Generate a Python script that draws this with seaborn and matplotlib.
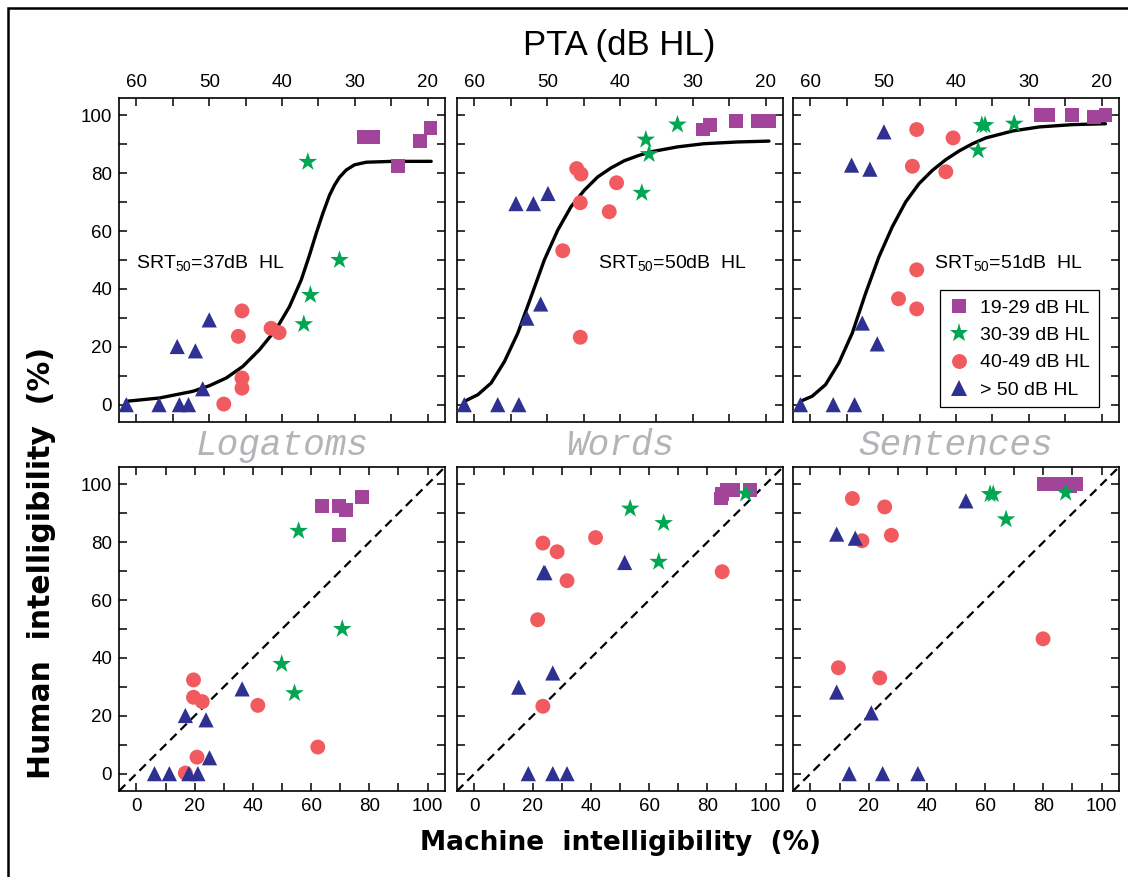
import matplotlib
matplotlib.use("Agg")
import matplotlib.pyplot as plt
from matplotlib.lines import Line2D
from matplotlib.patches import Rectangle
import numpy as np
import pandas as pd
import seaborn as sns

# hearing-loss groups (legend order)
G1, G2, G3, G4 = "19-29 dB HL", "30-39 dB HL", "40-49 dB HL", "> 50 dB HL"
GROUPS = [G1, G2, G3, G4]
POINT_GROUP = [G1] * 5 + [G2] * 4 + [G3] * 7 + [G4] * 8

TESTS = ["Logatoms", "Words", "Sentences"]
SRT50 = [37, 50, 51]

# Logatoms: per patient PTA (dB HL), machine and human intelligibility (%)
LOG_PTA = [28.7, 27.5, 24.1, 21.0, 19.6,
           36.45, 32.1, 36.1, 37.0,
           45.5, 46.0, 41.5, 40.4, 45.5, 45.5, 48.0,
           61.4, 56.9, 54.1, 52.85, 54.4, 51.9, 50.0, 50.9]
LOG_MACHINE = [63.8, 69.5, 69.5, 72.1, 77.6,
               55.7, 70.7, 49.9, 54.3,
               19.6, 41.7, 19.6, 22.6, 62.3, 20.8, 16.8,
               6.2, 11.3, 18.0, 21.1, 16.8, 23.9, 36.3, 25.1]
LOG_HUMAN = [92.5, 92.5, 82.4, 91.1, 95.6,
             83.9, 50.0, 37.9, 27.8,
             32.4, 23.6, 26.4, 24.9, 9.2, 5.7, 0.2,
             0, 0, 0, 0, 20.1, 18.6, 29.3, 5.5]

# Words
WRD_PTA = [28.6, 27.6, 24.1, 21.1, 19.5,
           32.1, 36.45, 36.0, 37.0,
           45.95, 45.36, 40.47, 45.46, 41.48, 47.87, 45.46,
           61.4, 56.8, 53.9, 54.3, 51.9, 49.9, 52.8, 50.9]
WRD_MACHINE = [84.6, 85.1, 86.9, 88.9, 94.8,
               93.2, 53.5, 65.0, 63.3,
               41.6, 23.5, 28.4, 85.1, 31.8, 21.7, 23.5,
               18.5, 26.9, 31.8, 23.8, 24.2, 51.6, 15.2, 26.9]
WRD_HUMAN = [95.1, 96.8, 98.0, 98.0, 98.0,
             96.8, 91.6, 86.6, 73.2,
             81.6, 79.7, 76.7, 69.8, 66.7, 53.2, 23.3,
             0, 0, 0, 69.5, 69.5, 73.0, 29.9, 34.8]

# Sentences
SEN_PTA = [28.3, 27.4, 24.05, 21.0, 19.46,
           36.45, 36.0, 32.0, 36.96,
           45.4, 40.4, 45.99, 41.4, 45.4, 47.9, 45.4,
           61.38, 56.87, 53.94, 49.9, 54.35, 51.83, 52.88, 50.82]
SEN_MACHINE = [80.1, 83.9, 87.3, 89.1, 91.4,
               61.7, 62.8, 87.7, 67.2,
               14.4, 25.5, 27.8, 17.7, 79.9, 9.6, 23.8,
               13.3, 24.8, 36.9, 53.4, 9.0, 15.4, 9.0, 20.9]
SEN_HUMAN = [100, 100, 100, 99.4, 100,
             96.6, 96.6, 97.1, 87.9,
             95.1, 92.2, 82.4, 80.5, 46.6, 36.6, 33.1,
             0, 0, 0, 94.3, 82.8, 81.4, 28.2, 21.0]

# fitted psychometric curves
LOG_CURVE_PTA = [61.42, 56.84, 54.55, 52.26, 49.97, 47.67, 45.39, 43.09, 40.8, 38.97, 37.36,
                 36.22, 35.3, 34.39, 33.47, 32.78, 32.1, 31.18, 30.04, 28.43, 24.77, 19.5]
LOG_CURVE_HUMAN = [1.15, 2.3, 3.45, 4.6, 6.55, 9.2, 13.2, 19.0, 26.1, 33.9, 43.1,
                   51.7, 59.2, 66.1, 72.4, 75.9, 78.6, 81.1, 82.9, 83.8, 84.1, 84.1]
WRD_CURVE_PTA = [61.37, 59.53, 57.71, 55.88, 54.05, 52.22, 50.4, 48.56, 46.74, 44.91,
                 43.07, 41.25, 39.42, 37.59, 35.76, 32.1, 28.45, 23.87, 19.53]
WRD_CURVE_HUMAN = [1.15, 3.45, 7.47, 14.9, 24.7, 37.3, 50.0, 60.3, 68.4, 74.1,
                   78.7, 81.8, 84.3, 86.0, 87.4, 89.1, 90.2, 90.8, 91.1]
SEN_CURVE_PTA = [61.38, 59.77, 57.93, 56.1, 54.26, 52.42, 50.59, 48.75, 46.91, 45.08,
                 43.24, 41.4, 39.57, 37.73, 35.9, 32.22, 28.55, 23.95, 19.46]
SEN_CURVE_HUMAN = [1.15, 2.9, 6.9, 14.4, 24.7, 38.5, 51.1, 61.5, 70.1, 76.4,
                   81.0, 84.7, 87.7, 90.2, 92.2, 94.6, 96.0, 96.8, 97.1]

PALETTE = {G1: "#a3449b", G2: "#00a651", G3: "#f15a5f", G4: "#2e3192"}
MARKERS = {G1: "s", G2: "*", G3: "o", G4: "^"}
SIZES = {G1: 100, G2: 200, G3: 115, G4: 120}

frames = []
for test, pta, mach, hum in zip(TESTS, [LOG_PTA, WRD_PTA, SEN_PTA],
                                [LOG_MACHINE, WRD_MACHINE, SEN_MACHINE],
                                [LOG_HUMAN, WRD_HUMAN, SEN_HUMAN]):
    frames.append(pd.DataFrame({"test": test, "group": POINT_GROUP,
                                "pta": pta, "machine": mach, "human": hum}))
df = pd.concat(frames, ignore_index=True)

curves = [(LOG_CURVE_PTA, LOG_CURVE_HUMAN), (WRD_CURVE_PTA, WRD_CURVE_HUMAN),
          (SEN_CURVE_PTA, SEN_CURVE_HUMAN)]
srt_x = [60, 43, 43]  # left edge of the SRT text, in PTA units

sns.set_theme(style="ticks")
plt.rcParams["font.family"] = ["Liberation Sans", "DejaVu Sans"]
plt.rcParams["mathtext.default"] = "regular"
for key in ["text.color", "axes.labelcolor", "xtick.color", "ytick.color", "axes.edgecolor"]:
    plt.rcParams[key] = "black"

W, H = 1128, 877
fig = plt.figure(figsize=(W / 100, H / 100), dpi=100)

lefts = [119, 457, 793]
pw, ph = 326, 324
top_y, bot_y = 98, 467


def box(xpix, ypix):
    return [xpix / W, 1 - (ypix + ph) / H, pw / W, ph / H]


def style_axes(ax, show_y):
    for sp in ax.spines.values():
        sp.set_linewidth(1.2)
        sp.set_color("black")
    ax.set_ylim(-6, 106)
    ax.set_yticks(np.arange(0, 101, 10))
    ax.set_yticklabels([str(v) if v % 20 == 0 and show_y else "" for v in range(0, 101, 10)])
    ax.tick_params(axis="both", which="both", direction="in", length=6, width=1.1,
                   top=True, right=True, labelsize=13.5, colors="black", pad=5)
    ax.set_xlabel("")
    ax.set_ylabel("")


for i, test in enumerate(TESTS):
    sub = df[df["test"] == test]

    # --- top: human vs PTA ---
    ax = fig.add_axes(box(lefts[i], top_y))
    sns.lineplot(x=curves[i][0], y=curves[i][1], ax=ax, color="black", lw=2.4,
                 sort=False, estimator=None, zorder=2, solid_joinstyle="round")
    sns.scatterplot(data=sub, x="pta", y="human", hue="group", style="group", size="group",
                    palette=PALETTE, markers=MARKERS, sizes=SIZES, hue_order=GROUPS,
                    style_order=GROUPS, size_order=GROUPS, linewidth=0, legend=False,
                    ax=ax, zorder=3)
    ax.set_xlim(62.4, 17.6)
    style_axes(ax, i == 0)
    ax.set_xticks(np.arange(20, 61, 5))
    ax.set_xticklabels([str(v) if v % 10 == 0 else "" for v in range(20, 61, 5)])
    ax.tick_params(axis="x", labeltop=True, labelbottom=False)
    ax.text(srt_x[i], 49, "SRT$_{50}$=%ddB  HL" % SRT50[i], fontsize=14,
            va="center", ha="left")

    if i == 2:
        handles = [Line2D([], [], marker=MARKERS[g], color=PALETTE[g], linestyle="none",
                          markersize=np.sqrt(SIZES[g]), markeredgewidth=0) for g in GROUPS]
        leg = ax.legend(handles, GROUPS, loc="lower right", bbox_to_anchor=(0.9375, 0.045),
                        borderaxespad=0, frameon=True, fancybox=False, framealpha=1,
                        edgecolor="black", fontsize=14, handlelength=1.0,
                        handletextpad=0.6, labelspacing=0.5, borderpad=0.45)
        leg.get_frame().set_linewidth(0.9)

    # --- bottom: human vs machine ---
    ax2 = fig.add_axes(box(lefts[i], bot_y))
    ax2.axline((0, 0), slope=1, color="black", lw=1.6, linestyle=(0, (4, 2.5)), zorder=2)
    sns.scatterplot(data=sub, x="machine", y="human", hue="group", style="group", size="group",
                    palette=PALETTE, markers=MARKERS, sizes=SIZES, hue_order=GROUPS,
                    style_order=GROUPS, size_order=GROUPS, linewidth=0, legend=False,
                    ax=ax2, zorder=3)
    ax2.set_xlim(-6, 106)
    style_axes(ax2, i == 0)
    ax2.set_xticks(np.arange(0, 101, 10))
    ax2.set_xticklabels([str(v) if v % 20 == 0 else "" for v in range(0, 101, 10)])

    # panel title between rows
    fig.text((lefts[i] + pw / 2) / W, 1 - 445 / H, test, ha="center", va="center",
             fontsize=26, style="italic", family="Liberation Mono", color="#b3b4b7")

fig.text(619 / W, 1 - 45 / H, "PTA (dB HL)", ha="center", va="center", fontsize=25)
fig.text(620 / W, 1 - 843 / H, "Machine  intelligibility  (%)", ha="center", va="center",
         fontsize=19, fontweight="bold", family="DejaVu Sans")
fig.text(42 / W, 1 - 563 / H, "Human  intelligibility  (%)", ha="center", va="center",
         rotation=90, fontsize=21.5, fontweight="bold", family="DejaVu Sans")

fig.patches.append(Rectangle((8 / W, -0.02), 1.05, 1 - 8 / H + 0.02, transform=fig.transFigure,
                             fill=False, lw=1.8, ec="black"))

fig.savefig("out.png", dpi=100)
